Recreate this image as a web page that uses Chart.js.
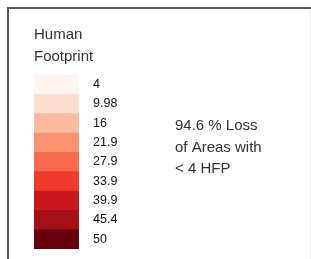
<!DOCTYPE html>
<html>
<head>
<meta charset="utf-8">
<script src="https://cdn.jsdelivr.net/npm/chart.js@4/dist/chart.umd.min.js"></script>
<style>
  html, body { margin: 0; padding: 0; background: #fff; overflow: hidden; }
  canvas { display: block; }
</style>
</head>
<body>
<canvas id="legendChart" width="311" height="259"></canvas>
<script>
const tickLabels = ["4", "9.98", "16", "21.9", "27.9", "33.9", "39.9", "45.4", "50"];
const swatchValues = [1, 1, 1, 1, 1, 1, 1, 1, 1];
const swatchColors = [
  "#fff5f0", "#fee0d2", "#fcbba1", "#fc9272", "#fb6a4a",
  "#ef3b2c", "#cb181d", "#a50f15", "#67000d",
];
const titleLines = ["Human", "Footprint"];
const noteLines = ["94.6 % Loss", "of Areas with", "< 4 HFP"];

const FONT = "'Liberation Sans', Arial, Helvetica, sans-serif";

// frame round the panel and the note on the right
const framePlugin = {
  id: "frame",
  beforeDraw(chart) {
    const c = chart.ctx;
    c.save();
    c.fillStyle = "#5a5a5a";
    c.fillRect(7, 7, 304, 2);
    c.fillRect(7, 7, 2, 252);
    c.fillStyle = "#e4e4e4";
    c.fillRect(310, 9, 1, 250);
    c.restore();
  },
  afterDraw(chart) {
    const c = chart.ctx;
    c.save();
    c.font = "15px " + FONT;
    c.fillStyle = "#333";
    c.textBaseline = "middle";
    c.textAlign = "left";
    noteLines.forEach((t, i) => c.fillText(t, 175, 126 + i * 21.5));
    c.restore();
  },
};

const ctx = document.getElementById("legendChart");

new Chart(ctx, {
  type: "bar",
  data: {
    labels: tickLabels,
    datasets: [
      {
        data: swatchValues,
        backgroundColor: swatchColors,
        borderWidth: 0,
        barPercentage: 1,
        categoryPercentage: 1,
      },
    ],
  },
  options: {
    indexAxis: "y",
    responsive: false,
    animation: false,
    layout: {
      padding: { left: 34, right: 0, top: 0, bottom: 10 },
    },
    scales: {
      x: {
        display: false,
        min: 0,
        max: 1,
      },
      y: {
        position: "right",
        grid: { display: false, drawTicks: true, tickLength: 12 },
        border: { display: false },
        ticks: {
          padding: 2,
          color: "#111",
          font: { family: FONT, size: 12.5 },
        },
        afterFit: (s) => {
          s.width = 232;
        },
      },
    },
    plugins: {
      legend: { display: false },
      tooltip: { enabled: false },
      title: {
        display: true,
        text: titleLines,
        align: "start",
        color: "#333",
        font: { family: FONT, size: 15, weight: "normal", lineHeight: 22 / 15 },
        padding: { top: 23.5, bottom: 7.5 },
      },
    },
  },
  plugins: [framePlugin],
});
</script>
</body>
</html>
